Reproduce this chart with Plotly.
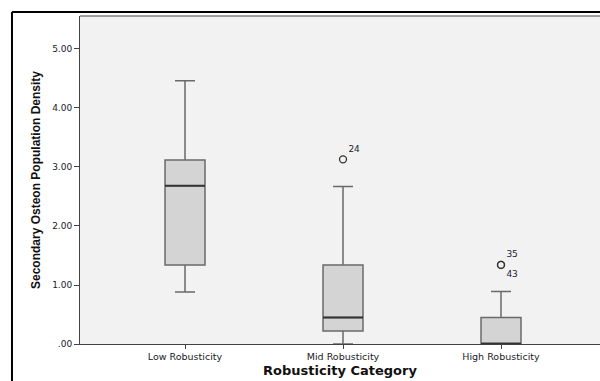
import plotly.graph_objects as go

categories = ["Low Robusticity", "Mid Robusticity", "High Robusticity"]
lower_fence = [0.88, 0.0, 0.0]
q1 = [1.34, 0.22, 0.0]
median = [2.68, 0.45, 0.0]
q3 = [3.12, 1.34, 0.45]
upper_fence = [4.46, 2.67, 0.89]

outlier_cat = [1, 2, 2]
outlier_val = [3.13, 1.34, 1.34]
outlier_label = ["24", "35", "43"]
outlier_textpos = ["top right", "top right", "bottom right"]

ytick_vals = [0, 1, 2, 3, 4, 5]
ytick_text = [".00", "1.00", "2.00", "3.00", "4.00", "5.00"]

box_w = 0.253
pos = list(range(len(categories)))

fig = go.Figure()
for i, c in enumerate(categories):
    fig.add_trace(go.Box(
        x=[pos[i]], q1=[q1[i]], median=[median[i]], q3=[q3[i]],
        lowerfence=[lower_fence[i]], upperfence=[upper_fence[i]],
        width=box_w, whiskerwidth=0.5,
        fillcolor="#d4d4d4",
        line=dict(color="#6a6a6a", width=1.5),
        boxpoints=False, showlegend=False, hoverinfo="skip",
    ))
    fig.add_trace(go.Scatter(
        x=[pos[i] - box_w / 2, pos[i] + box_w / 2], y=[median[i], median[i]],
        mode="lines", line=dict(color="#333333", width=2),
        showlegend=False, hoverinfo="skip",
    ))

fig.add_trace(go.Scatter(
    x=outlier_cat, y=outlier_val, mode="markers+text",
    text=outlier_label, textposition=outlier_textpos,
    textfont=dict(family="DejaVu Sans", size=9, color="#222233"),
    marker=dict(symbol="circle-open", size=7, color="#333333", line=dict(width=1.3)),
    showlegend=False, hoverinfo="skip",
))

# outer frame (left and top edges only; others fall outside the picture)
fig.add_shape(type="line", xref="paper", yref="paper",
              x0=-0.1308, x1=-0.1308, y0=-0.2, y1=1.0122,
              line=dict(color="black", width=2), layer="above")
fig.add_shape(type="line", xref="paper", yref="paper",
              x0=-0.1308, x1=1.0, y0=1.0122, y1=1.0122,
              line=dict(color="black", width=2), layer="above")
# top line of plot area
fig.add_shape(type="line", xref="paper", yref="paper",
              x0=0, x1=1.0, y0=1, y1=1,
              line=dict(color="#444444", width=1), layer="above")

fig.update_layout(
    width=600, height=381,
    margin=dict(l=80, r=0, t=16, b=37),
    paper_bgcolor="white", plot_bgcolor="#f2f2f2",
    font=dict(family="DejaVu Sans", size=8, color="#1a1a2a"),
)
fig.update_xaxes(
    range=[-0.6646, 2.6266], tickvals=pos, ticktext=categories,
    showgrid=False, zeroline=False, showline=True, linecolor="#444444", linewidth=1,
    ticks="outside", ticklen=4, tickcolor="#444444",
    tickfont=dict(family="DejaVu Sans", size=9.5, color="#1a1a2a"),
    title=dict(text="<b>Robusticity Category</b>", standoff=4,
               font=dict(family="DejaVu Sans", size=13, color="#111111")),
)
fig.update_yaxes(
    range=[0, 5.559], tickvals=ytick_vals, ticktext=ytick_text,
    showgrid=False, zeroline=False, showline=True, linecolor="#444444", linewidth=1,
    ticks="outside", ticklen=5, tickcolor="#444444",
    tickfont=dict(family="DejaVu Sans", size=9, color="#1a1a2a"),
    title=dict(text="<b>Secondary Osteon Population Density</b>", standoff=8,
               font=dict(family="Liberation Sans", size=12, color="#111111")),
)

fig.write_html(
    "out.html",
    config={"displayModeBar": False},
    post_script="document.documentElement.style.overflow='hidden';document.body.style.overflow='hidden';document.body.style.margin='0';",
)
